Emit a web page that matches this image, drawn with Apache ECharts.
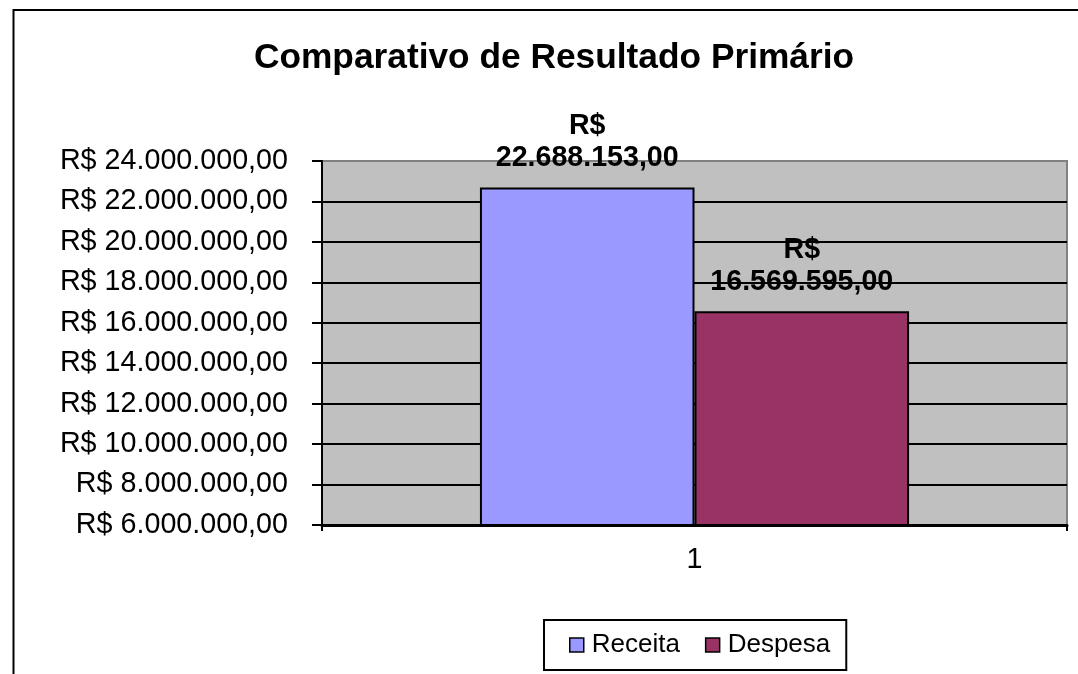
<!DOCTYPE html>
<html>
<head>
<meta charset="utf-8">
<script src="https://cdn.jsdelivr.net/npm/echarts@6/dist/echarts.min.js"></script>
<style>
    html, body { margin: 0; padding: 0; background: #fff; }
    #chart { width: 1078px; height: 674px; }
</style>
</head>
<body>
<div id="chart"></div>
<script>
const titleText = "Comparativo de Resultado Primário";
const categories = ["1"];
const seriesNames = ["Receita", "Despesa"];
const receita = [22688153];
const despesa = [16569595];
const yMin = 6000000;
const yMax = 24000000;
const yStep = 2000000;
const colors = ["#9999FF", "#993366"];

const FONT = "'Liberation Sans', Arial, sans-serif";

// formata no padrão R$ 1.234.567,00
const fmtBRL = v => {
    let parts = Number(v).toFixed(2).split(".");
    let inteiro = parts[0].replace(/\B(?=(\d{3})+(?!\d))/g, ".");
    return inteiro + "," + parts[1];
};

const gridColors = [];
for (let v = yMin; v <= yMax; v += yStep) {
    gridColors.push(v === yMax ? "#808080" : "#000000");
}

const makeSeries = (name, data, color) => ({
    name: name,
    type: "bar",
    data: data,
    barGap: "0%",
    barCategoryGap: "42.4%",
    itemStyle: { color: color, borderColor: "#000", borderWidth: 2 },
    label: {
        show: true,
        position: "top",
        distance: 13,
        color: "#000",
        fontFamily: FONT,
        fontSize: 28.6,
        fontWeight: "bold",
        lineHeight: 32,
        align: "center",
        formatter: p => "R$\n" + fmtBRL(p.value)
    }
});

let chart = echarts.init(document.getElementById("chart"));

chart.setOption({
    animation: false,
    backgroundColor: "#ffffff",
    title: {
        text: titleText,
        left: 554,
        top: 41,
        padding: 0,
        textAlign: "center",
        textStyle: { fontFamily: FONT, fontSize: 35.3, fontWeight: "bold", color: "#000" }
    },
    legend: {
        data: seriesNames,
        left: 544,
        top: 620,
        orient: "horizontal",
        padding: [12, 16, 12, 25],
        itemGap: 25,
        itemWidth: 14,
        itemHeight: 14,
        icon: "rect",
        borderColor: "#000",
        borderWidth: 2,
        backgroundColor: "#fff",
        itemStyle: { borderColor: "#000", borderWidth: 1.5 },
        textStyle: { fontFamily: FONT, fontSize: 26, color: "#000", padding: [0, 0, 0, 3] }
    },
    grid: {
        left: 322,
        right: 11,
        top: 161,
        bottom: 149,
        show: true,
        backgroundColor: "#C0C0C0",
        borderColor: "#808080",
        borderWidth: 2
    },
    xAxis: {
        type: "category",
        data: categories,
        axisLine: { show: true, lineStyle: { color: "#000", width: 3 } },
        axisTick: { show: true, length: 6, lineStyle: { color: "#000", width: 2 } },
        axisLabel: { margin: 21, color: "#000", fontFamily: FONT, fontSize: 28.7 },
        splitLine: { show: false }
    },
    yAxis: {
        type: "value",
        min: yMin,
        max: yMax,
        interval: yStep,
        axisLine: { show: true, lineStyle: { color: "#000", width: 2 } },
        axisTick: { show: true, length: 10, lineStyle: { color: "#000", width: 2 } },
        axisLabel: {
            margin: 34,
            color: "#000",
            fontFamily: FONT,
            fontSize: 28.7,
            formatter: v => "R$ " + fmtBRL(v)
        },
        splitLine: { show: true, lineStyle: { color: gridColors, width: 2 } }
    },
    graphic: [{
        type: "rect",
        shape: { x: 13.5, y: 10, width: 2000, height: 2000 },
        style: { fill: "none", stroke: "#000", lineWidth: 2 },
        silent: true,
        z: 100
    }],
    series: [
        makeSeries(seriesNames[0], receita, colors[0]),
        makeSeries(seriesNames[1], despesa, colors[1])
    ]
});

window.addEventListener("resize", () => chart.resize());
</script>
</body>
</html>
